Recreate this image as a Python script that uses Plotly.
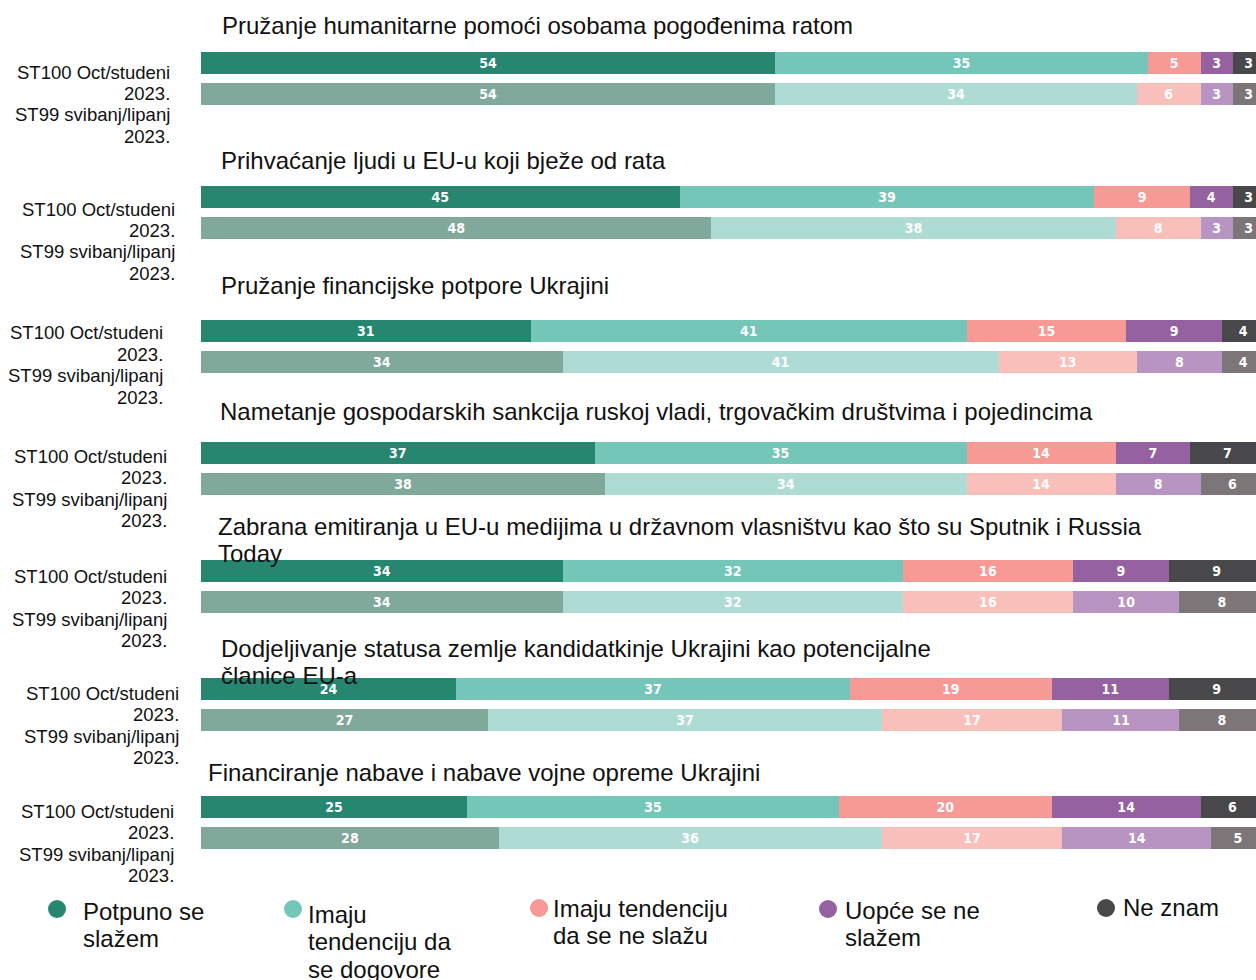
import plotly.graph_objects as go

# ---------------- data ----------------
questions = [
    "Pružanje humanitarne pomoći osobama pogođenima ratom",
    "Prihvaćanje ljudi u EU-u koji bježe od rata",
    "Pružanje financijske potpore Ukrajini",
    "Nametanje gospodarskih sankcija ruskoj vladi, trgovačkim društvima i pojedincima",
    "Zabrana emitiranja u EU-u medijima u državnom vlasništvu kao što su Sputnik i Russia<br>Today",
    "Dodjeljivanje statusa zemlje kandidatkinje Ukrajini kao potencijalne<br>članice EU-a",
    "Financiranje nabave i nabave vojne opreme Ukrajini",
]
waves = ["ST100 Oct/studeni 2023.", "ST99 svibanj/lipanj 2023."]
wave_label_lines = [["ST100 Oct/studeni", "2023."], ["ST99 svibanj/lipanj", "2023."]]

answers = [
    "Potpuno se<br>slažem",
    "Imaju<br>tendenciju da<br>se dogovore",
    "Imaju tendenciju<br>da se ne slažu",
    "Uopće se ne<br>slažem",
    "Ne znam",
]

oct_potpuno = [54, 45, 31, 37, 34, 24, 25]
oct_imaju_da = [35, 39, 41, 35, 32, 37, 35]
oct_ne_slazu = [5, 9, 15, 14, 16, 19, 20]
oct_uopce = [3, 4, 9, 7, 9, 11, 14]
oct_ne_znam = [3, 3, 4, 7, 9, 9, 6]

may_potpuno = [54, 48, 34, 38, 34, 27, 28]
may_imaju_da = [34, 38, 41, 34, 32, 37, 36]
may_ne_slazu = [6, 8, 13, 14, 16, 17, 17]
may_uopce = [3, 3, 8, 8, 10, 11, 14]
may_ne_znam = [3, 3, 4, 6, 8, 8, 5]

oct_series = [oct_potpuno, oct_imaju_da, oct_ne_slazu, oct_uopce, oct_ne_znam]
may_series = [may_potpuno, may_imaju_da, may_ne_slazu, may_uopce, may_ne_znam]

oct_colors = ["#26866F", "#74C7B8", "#F79A96", "#9661A0", "#48484B"]
may_colors = ["#80A99B", "#AEDCD4", "#F9C0BB", "#B894C2", "#7D7679"]

# ---------------- layout helpers ----------------
W, H = 1256, 980

def py(y):
    return 1 - y / H

def px(x):
    return x / W

group_centers = [78.5, 212.5, 346.5, 468.5, 586.5, 704.5, 822.5]
title_pos = [(220, 26), (219, 161), (219, 286), (218, 412), (216, 526), (219, 648), (206, 772)]
label_right = [172, 177, 165, 169, 169, 181, 176]
label_first = [72, 209, 333, 456, 576, 693, 811]

FONT = "Liberation Sans, Arial, sans-serif"
BAR_FONT = "Liberation Sans Narrow, DejaVu Sans Condensed, Arial Narrow, sans-serif"

fig = go.Figure()
annotations = []
shapes = []

for i, q in enumerate(questions):
    yname = "y" if i == 0 else f"y{i+1}"
    for k in range(5):
        fig.add_trace(go.Bar(
            x=[oct_series[k][i], may_series[k][i]],
            y=waves,
            orientation="h",
            marker=dict(color=[oct_colors[k], may_colors[k]], line=dict(width=0)),
            text=[oct_series[k][i], may_series[k][i]],
            textposition="inside",
            insidetextanchor="middle",
            textangle=0,
            textfont=dict(family=BAR_FONT, size=14, color="white", weight="bold"),
            name=answers[k].replace("<br>", " "),
            showlegend=False,
            hoverinfo="x+name",
            xaxis="x",
            yaxis=yname,
        ))
    c = group_centers[i]
    axkey = "yaxis" if i == 0 else f"yaxis{i+1}"
    fig.layout[axkey] = dict(
        domain=[py(c + 31), py(c - 31)],
        anchor="x",
        type="category",
        range=[1.5, -0.5],
        showticklabels=False,
        showgrid=False,
        zeroline=False,
        fixedrange=True,
    )
    # title lines
    tx, ty = title_pos[i]
    for j, line in enumerate(q.split("<br>")):
        annotations.append(dict(
            text=line, x=px(tx), y=py(ty + 27 * j), xref="paper", yref="paper",
            xanchor="left", yanchor="middle", showarrow=False,
            font=dict(family=FONT, size=24, color="#111111"),
        ))
    # wave labels
    n = 0
    for w in range(2):
        for line in wave_label_lines[w]:
            annotations.append(dict(
                text=line, x=px(label_right[i]), y=py(label_first[i] + 21.5 * n),
                xref="paper", yref="paper", xanchor="right", yanchor="middle",
                showarrow=False, font=dict(family=FONT, size=18.5, color="#111111"),
            ))
            n += 1

# legend (custom)
leg_dot = [(57, 909), (293, 909), (539, 908), (828, 909), (1106, 908)]
leg_text = [(81, 911), (306, 914), (551, 908), (843, 910), (1121, 907)]
r = 9
for k in range(5):
    dx, dy = leg_dot[k]
    shapes.append(dict(
        type="circle", xref="paper", yref="paper",
        x0=px(dx - r), x1=px(dx + r), y0=py(dy + r), y1=py(dy - r),
        fillcolor=oct_colors[k], line=dict(width=0),
    ))
    tx, ty = leg_text[k]
    for j, line in enumerate(answers[k].split("<br>")):
        annotations.append(dict(
            text=line, x=px(tx), y=py(ty + 27.5 * j), xref="paper", yref="paper",
            xanchor="left", yanchor="middle", showarrow=False,
            font=dict(family=FONT, size=24, color="#111111"),
        ))

fig.update_layout(
    width=W, height=H,
    margin=dict(l=0, r=0, t=0, b=0),
    barmode="stack",
    bargap=0.29,
    plot_bgcolor="white",
    paper_bgcolor="white",
    xaxis=dict(domain=[px(201), 1], range=[0, 99.2], visible=False, fixedrange=True),
    annotations=annotations,
    shapes=shapes,
    uniformtext=dict(mode="show", minsize=8),
)

fig.write_html(
    "out.html",
    config={"displayModeBar": False},
    post_script="document.body.style.margin='0';document.body.style.overflow='hidden';",
)
